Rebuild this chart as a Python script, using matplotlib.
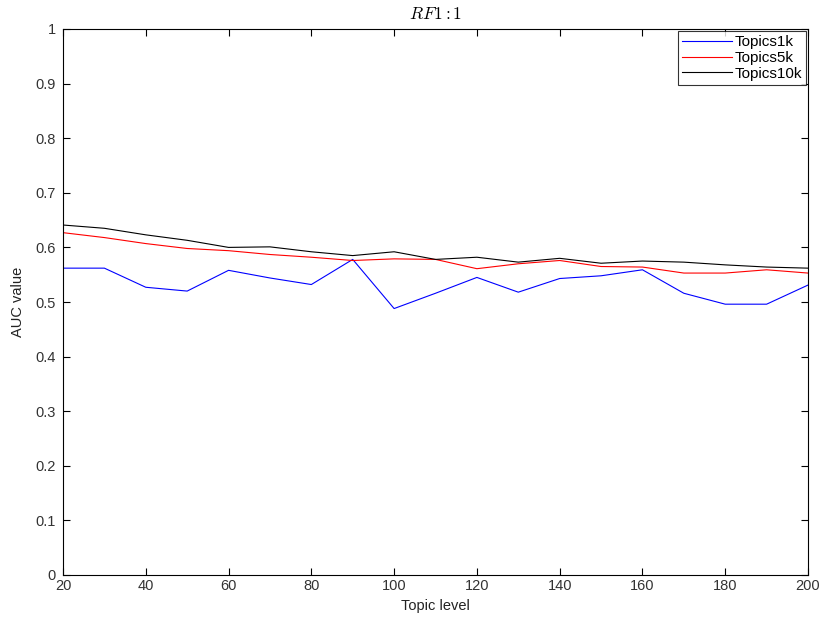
import matplotlib
matplotlib.use("Agg")
import matplotlib.pyplot as plt

# ─── Données AUC par niveau de topic ────────────────────────
topic_level = [20, 30, 40, 50, 60, 70, 80, 90, 100, 110,
               120, 130, 140, 150, 160, 170, 180, 190, 200]

auc_1k = [0.562, 0.562, 0.527, 0.520, 0.558, 0.544, 0.532, 0.578, 0.488, 0.516,
          0.545, 0.518, 0.543, 0.548, 0.559, 0.516, 0.496, 0.496, 0.531]
auc_5k = [0.627, 0.618, 0.607, 0.598, 0.594, 0.587, 0.582, 0.576, 0.579, 0.578,
          0.561, 0.570, 0.576, 0.565, 0.564, 0.553, 0.553, 0.559, 0.553]
auc_10k = [0.641, 0.635, 0.623, 0.613, 0.600, 0.601, 0.592, 0.585, 0.592, 0.578,
           0.582, 0.573, 0.580, 0.571, 0.575, 0.573, 0.568, 0.564, 0.562]

series_labels = ["Topics1k", "Topics5k", "Topics10k"]

x_ticks = [20, 40, 60, 80, 100, 120, 140, 160, 180, 200]
y_ticks = [0, 0.1, 0.2, 0.3, 0.4, 0.5, 0.6, 0.7, 0.8, 0.9, 1]

plt.rcParams["font.family"] = ["Liberation Sans", "DejaVu Sans"]
plt.rcParams["mathtext.fontset"] = "cm"

fig = plt.figure(figsize=(8.22, 6.2), dpi=100)
ax = fig.add_axes([63 / 822, 1 - 575 / 620, (808 - 63) / 822, (575 - 29) / 620])

ax.plot(topic_level, auc_1k, color="#0000ff", linewidth=0.8, label=series_labels[0])
ax.plot(topic_level, auc_5k, color="#ff0000", linewidth=0.8, label=series_labels[1])
ax.plot(topic_level, auc_10k, color="#000000", linewidth=0.8, label=series_labels[2])

ax.set_xlim(20, 200)
ax.set_ylim(0, 1)
ax.set_xticks(x_ticks)
ax.set_yticks(y_ticks)
ax.set_yticklabels(["0", "0.1", "0.2", "0.3", "0.4", "0.5", "0.6", "0.7", "0.8", "0.9", "1"])

ax.tick_params(direction="in", length=5, width=0.8, top=True, right=True,
               labelsize=10.5, colors="#000000", labelcolor="#333333")
ax.tick_params(axis="y", pad=5)
ax.tick_params(axis="x", pad=3)
for spine in ax.spines.values():
    spine.set_linewidth(0.8)
    spine.set_color("#000000")

ax.set_xlabel("Topic level", fontsize=10.5, color="#222222", labelpad=4)
ax.set_ylabel("AUC value", fontsize=10.5, color="#222222", labelpad=8)
ax.set_title(r"$RF1:1$", fontsize=12.5, pad=7)

leg = ax.legend(loc="upper right", fontsize=11, frameon=True, fancybox=False,
                borderaxespad=0.15, handlelength=3.3, handletextpad=0.15,
                labelspacing=0.12, borderpad=0.25)
leg.get_frame().set_edgecolor("#000000")
leg.get_frame().set_linewidth(0.8)

fig.savefig("out.png", dpi=100, facecolor="white")
plt.close(fig)
